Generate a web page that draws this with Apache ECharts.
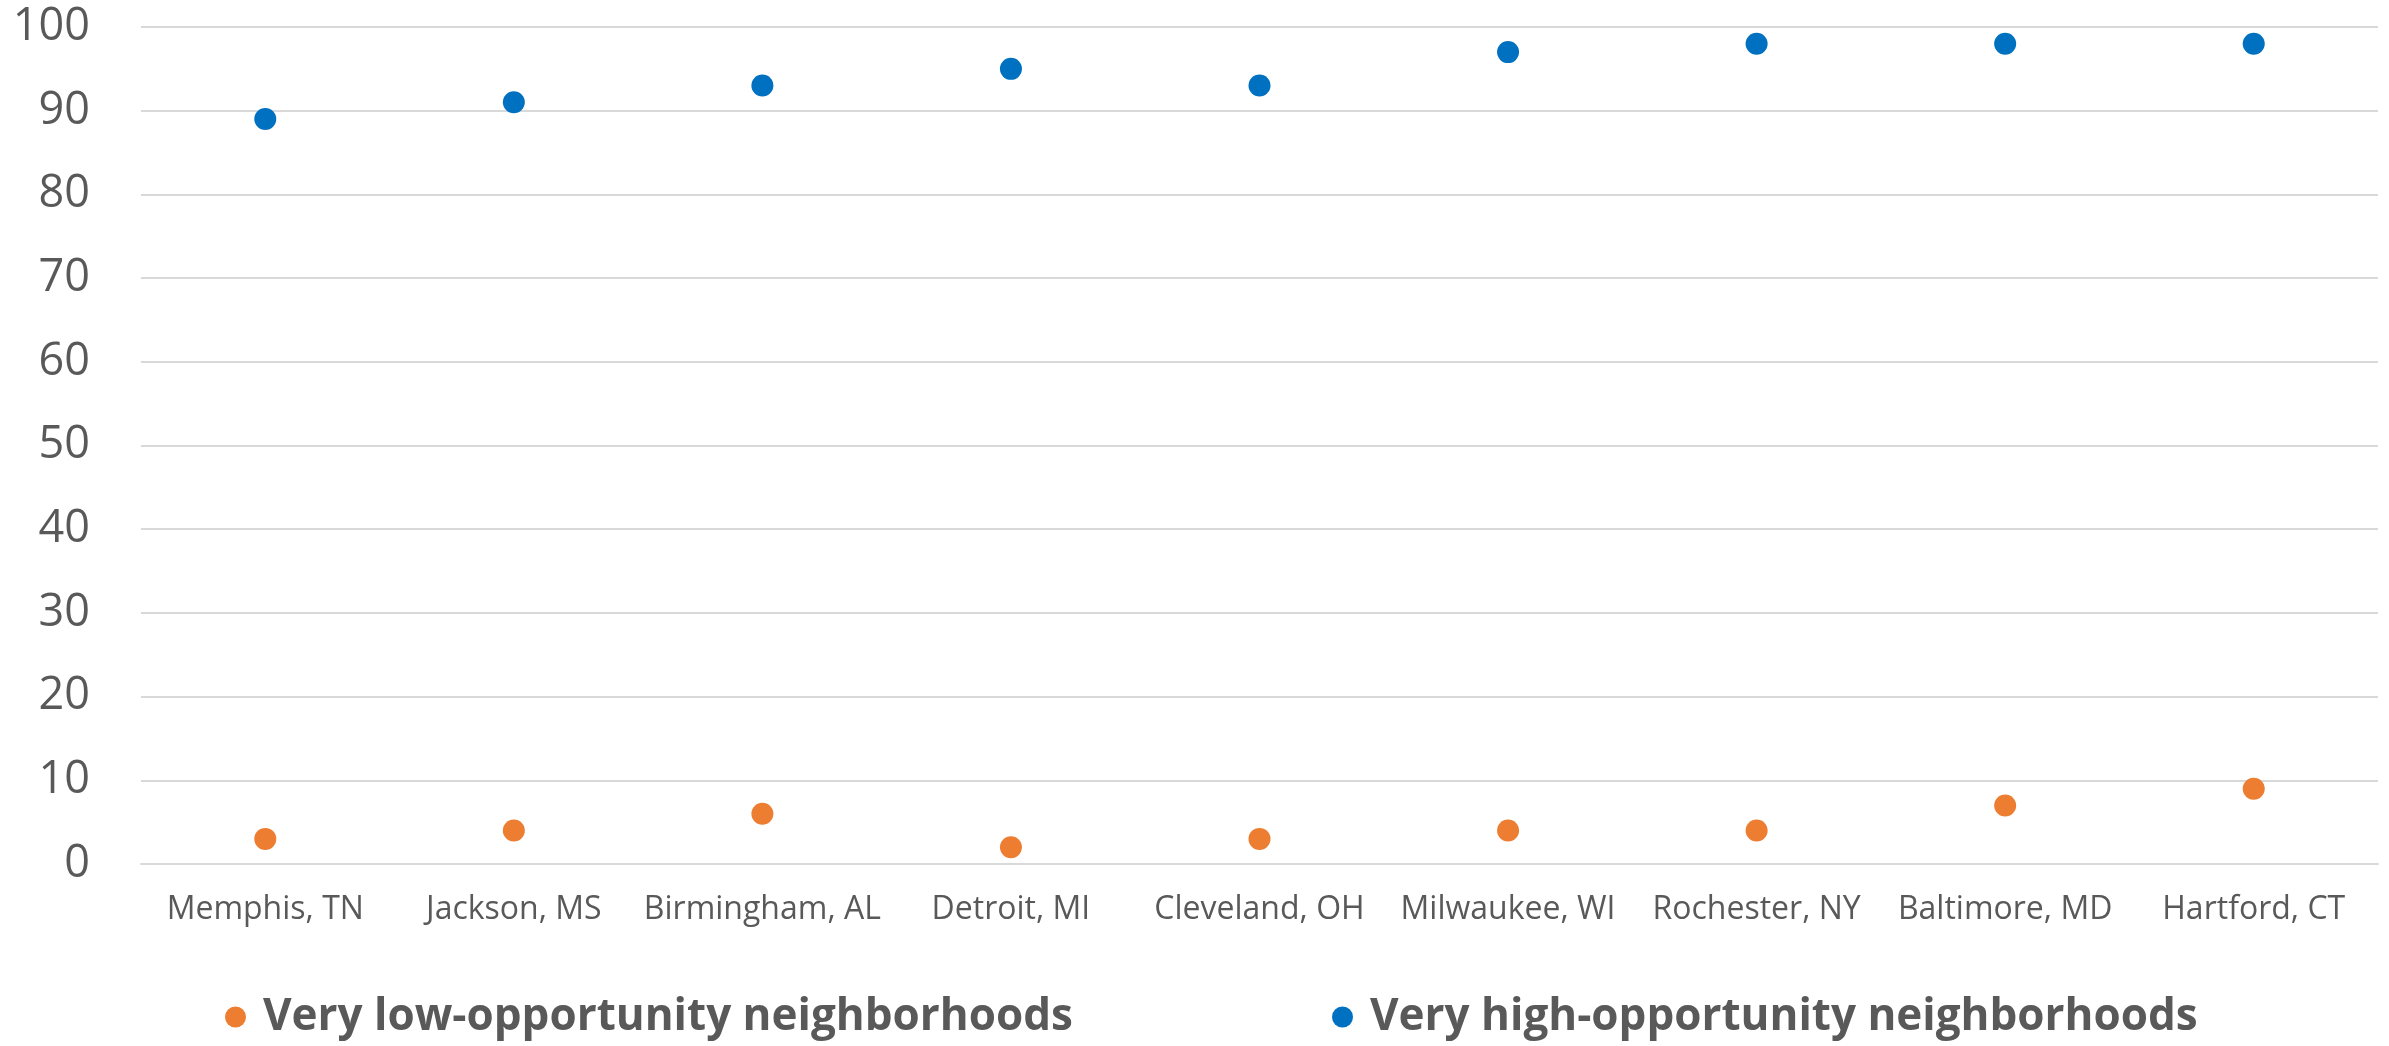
<!DOCTYPE html>
<html>
<head>
<meta charset="utf-8">
<script src="https://cdn.jsdelivr.net/npm/echarts@6/dist/echarts.min.js"></script>
<style>
  html, body { margin: 0; padding: 0; background: #ffffff; }
  #chart { width: 2389px; height: 1046px; }
</style>
</head>
<body>
<div id="chart"></div>
<script>
// Metro areas along the horizontal axis
const cities = ['Memphis, TN', 'Jackson, MS', 'Birmingham, AL', 'Detroit, MI', 'Cleveland, OH',
  'Milwaukee, WI', 'Rochester, NY', 'Baltimore, MD', 'Hartford, CT'];

// Series values (percent)
const lowOpportunity = [3, 4, 6, 2, 3, 4, 4, 7, 9];
const highOpportunity = [89, 91, 93, 95, 93, 97, 98, 98, 98];

const lowName = 'Very low-opportunity neighborhoods';
const highName = 'Very high-opportunity neighborhoods';

const textGrey = '#595959';
const gridGrey = '#D9D9D9';
const fontFamily = '"Open Sans", "Noto Sans", sans-serif';

const chart = echarts.init(document.getElementById('chart'), null, { renderer: 'canvas' });

const legendText = { color: textGrey, fontFamily, fontWeight: 'bold', fontSize: 44, padding: [0, 0, 0, 12] };

chart.setOption({
  animation: false,
  backgroundColor: '#ffffff',
  grid: { left: 141, right: 11, top: 27, bottom: 182, containLabel: false },
  legend: [
    {
      data: [lowName], left: 220, top: 990,
      icon: 'circle', itemWidth: 21, itemHeight: 21,
      textStyle: legendText
    },
    {
      data: [highName], left: 1327, top: 990,
      icon: 'circle', itemWidth: 21, itemHeight: 21,
      textStyle: legendText
    }
  ],
  xAxis: {
    type: 'category',
    data: cities,
    boundaryGap: true,
    axisLine: { show: true, lineStyle: { color: gridGrey, width: 2 } },
    axisTick: { show: false },
    axisLabel: { color: textGrey, fontFamily, fontSize: 32, margin: 30, interval: 0 },
    splitLine: { show: false }
  },
  yAxis: {
    type: 'value',
    min: 0, max: 100, interval: 10,
    axisLine: { show: false },
    axisTick: { show: false },
    axisLabel: { color: textGrey, fontFamily, fontSize: 45, margin: 51 },
    splitLine: { show: true, lineStyle: { color: gridGrey, width: 2 } }
  },
  series: [
    {
      name: lowName, type: 'scatter', data: lowOpportunity,
      symbol: 'circle', symbolSize: 22,
      itemStyle: { color: '#ED7D31', opacity: 1 }
    },
    {
      name: highName, type: 'scatter', data: highOpportunity,
      symbol: 'circle', symbolSize: 22,
      itemStyle: { color: '#0070C0', opacity: 1 }
    }
  ]
});
</script>
</body>
</html>
